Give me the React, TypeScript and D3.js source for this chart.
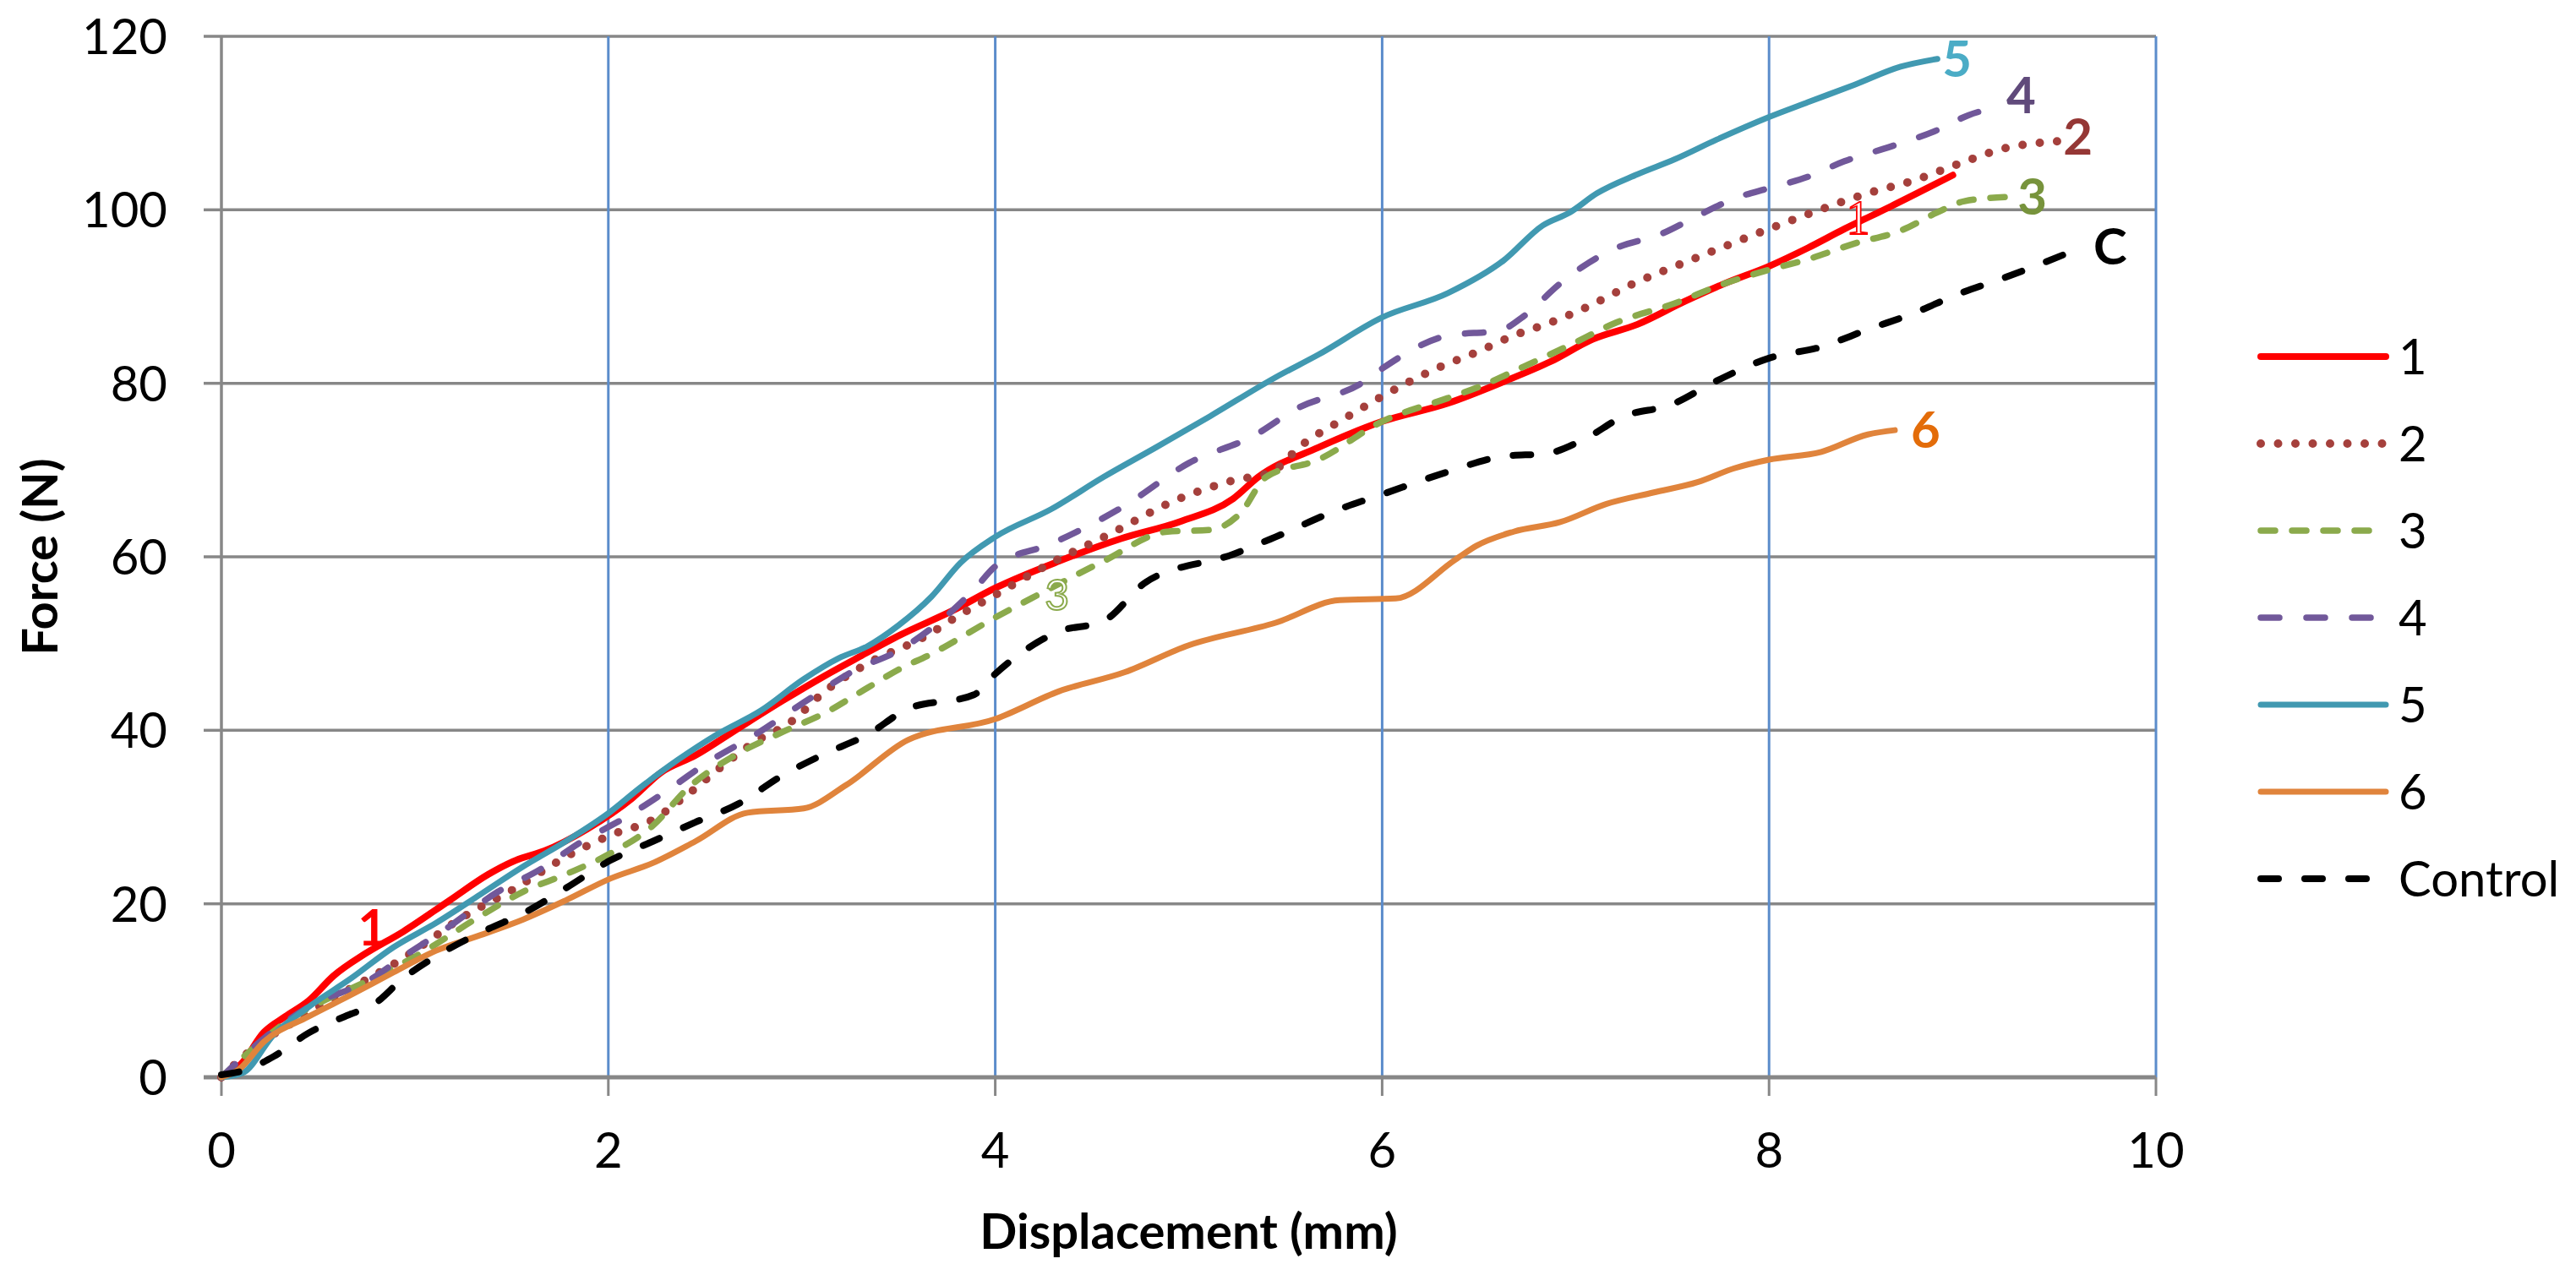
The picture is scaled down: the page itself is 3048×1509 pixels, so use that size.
import React from "react";
import * as d3 from "d3";

// axis ticks
const xTicks = [0, 2, 4, 6, 8, 10];
const yTicks = [0, 20, 40, 60, 80, 100, 120];

// series 1 (red, solid)
const s1X = [0, 0.1, 0.22, 0.33, 0.45, 0.58, 0.74, 0.94, 1.18, 1.38, 1.52, 1.67, 1.89, 2.12, 2.27, 2.45, 2.67, 2.9, 3.12, 3.3, 3.51, 3.78, 4.0, 4.33, 4.65, 4.96, 5.23, 5.36, 5.67, 6.0, 6.34, 6.64, 6.87, 7.09, 7.32, 7.56, 7.77, 8.0, 8.2, 8.39, 8.63, 8.95];
const s1Y = [0, 1.5, 5.2, 7.0, 8.8, 11.7, 14.2, 16.8, 20.4, 23.4, 25.0, 26.1, 28.6, 32.1, 35.1, 37.1, 40.2, 43.4, 46.3, 48.5, 51.0, 53.8, 56.4, 59.5, 62.1, 64.1, 66.7, 69.2, 72.6, 75.6, 77.7, 80.3, 82.5, 85.1, 86.8, 89.4, 91.5, 93.5, 95.6, 97.8, 100.4, 104.0];

// series 2 (dark red, round dots)
const s2X = [0, 0.13, 0.45, 1.0, 1.23, 1.52, 1.78, 2.01, 2.23, 2.41, 2.59, 2.76, 2.94, 3.12, 3.34, 3.62, 3.84, 4.0, 4.29, 4.6, 4.91, 5.23, 5.43, 5.58, 5.81, 6.0, 6.3, 6.49, 6.68, 6.87, 7.06, 7.3, 7.56, 7.75, 8.0, 8.25, 8.51, 8.75, 8.98, 9.22, 9.49];
const s2Y = [0, 2.7, 7.4, 14.6, 18.2, 21.8, 25.4, 27.9, 29.7, 32.6, 35.9, 38.7, 40.9, 44.5, 47.7, 50.6, 53.6, 55.6, 59.3, 62.7, 66.3, 68.8, 69.8, 72.8, 76.0, 78.5, 81.9, 83.6, 85.5, 87.0, 88.8, 91.5, 93.9, 95.6, 97.8, 99.9, 101.9, 103.4, 105.3, 107.1, 107.9];

// series 3 (green, dashes)
const s3X = [0, 0.33, 0.78, 1.0, 1.34, 1.56, 1.78, 2.01, 2.23, 2.41, 2.67, 2.9, 3.12, 3.34, 3.5, 3.67, 4.0, 4.22, 4.56, 4.89, 5.11, 5.27, 5.4, 5.67, 6.0, 6.34, 6.49, 6.73, 6.97, 7.21, 7.51, 7.77, 8.0, 8.2, 8.44, 8.68, 8.87, 9.01, 9.25];
const s3Y = [0, 6.3, 11.4, 13.9, 18.6, 21.4, 23.4, 25.8, 29.0, 33.3, 37.3, 39.8, 42.0, 44.9, 47.0, 48.8, 53.0, 55.6, 59.5, 62.9, 63.1, 65.1, 69.2, 71.2, 75.6, 78.3, 79.5, 81.9, 84.4, 87.0, 89.2, 91.5, 93.1, 94.3, 96.1, 97.6, 99.7, 101.0, 101.5];

// series 4 (purple, long dashes)
const s4X = [0, 0.22, 0.45, 0.78, 0.94, 1.16, 1.43, 1.65, 1.85, 2.1, 2.32, 2.52, 2.76, 3.01, 3.28, 3.5, 3.89, 4.0, 4.29, 4.67, 5.0, 5.34, 5.56, 5.9, 6.0, 6.34, 6.61, 6.73, 6.92, 7.04, 7.21, 7.44, 7.63, 7.82, 8.0, 8.2, 8.39, 8.63, 8.87, 9.03, 9.17];
const s4Y = [0, 4.5, 8.1, 11.4, 13.9, 17.1, 21.4, 24.0, 27.0, 30.1, 33.3, 36.4, 39.5, 43.2, 47.0, 49.2, 56.2, 58.9, 61.5, 65.9, 70.8, 74.0, 77.1, 80.1, 81.7, 85.5, 86.1, 87.7, 91.5, 93.5, 95.6, 97.2, 99.3, 101.3, 102.5, 103.8, 105.6, 107.3, 109.2, 110.9, 111.8];

// series 5 (teal, solid)
const s5X = [0, 0.11, 0.27, 0.45, 0.67, 0.89, 1.11, 1.34, 1.56, 1.78, 2.01, 2.16, 2.36, 2.56, 2.79, 3.01, 3.19, 3.34, 3.5, 3.67, 3.82, 4.0, 4.29, 4.56, 4.83, 5.11, 5.45, 5.67, 6.0, 6.34, 6.63, 6.83, 6.97, 7.11, 7.32, 7.51, 7.73, 8.0, 8.2, 8.44, 8.68, 8.87];
const s5Y = [0, 0.5, 4.9, 8.1, 11.4, 15.0, 17.8, 21.1, 24.3, 27.2, 30.6, 33.3, 36.6, 39.5, 42.3, 45.9, 48.3, 49.7, 52.1, 55.4, 59.3, 62.3, 65.5, 69.2, 72.6, 76.2, 80.7, 83.3, 87.6, 90.4, 94.2, 98.2, 99.7, 101.9, 104.1, 105.8, 108.1, 110.7, 112.4, 114.4, 116.5, 117.4];

// series 6 (orange, solid)
const s6X = [0, 0.09, 0.22, 0.45, 0.67, 0.89, 1.11, 1.34, 1.56, 1.78, 2.01, 2.23, 2.45, 2.72, 3.01, 3.23, 3.55, 4.0, 4.33, 4.67, 5.0, 5.45, 5.78, 6.07, 6.38, 6.49, 6.68, 6.92, 7.16, 7.4, 7.63, 7.82, 8.0, 8.27, 8.51, 8.65];
const s6Y = [0, 0.9, 4.1, 7.0, 9.5, 12.1, 14.6, 16.4, 18.2, 20.4, 22.9, 24.7, 27.2, 30.5, 31.0, 33.7, 38.9, 41.3, 44.5, 46.7, 49.8, 52.4, 55.0, 55.2, 59.7, 61.3, 62.9, 64.0, 66.1, 67.4, 68.6, 70.2, 71.2, 72.1, 74.1, 74.6];

// control (black, dashes)
const cX = [0, 0.12, 0.27, 0.45, 0.67, 0.78, 0.94, 1.16, 1.38, 1.56, 1.78, 2.01, 2.23, 2.45, 2.67, 2.9, 3.12, 3.34, 3.55, 3.89, 4.0, 4.33, 4.56, 4.78, 5.23, 5.45, 5.78, 6.0, 6.34, 6.63, 6.85, 7.04, 7.25, 7.49, 7.73, 8.0, 8.27, 8.51, 8.75, 8.98, 9.22, 9.62];
const cY = [0.3, 0.8, 2.4, 5.1, 7.3, 8.3, 11.4, 14.6, 17.1, 18.9, 21.8, 25.0, 27.2, 29.4, 31.5, 34.8, 37.3, 39.5, 42.5, 44.1, 46.5, 51.4, 52.6, 57.1, 60.3, 62.3, 65.5, 67.2, 69.8, 71.6, 71.9, 73.5, 76.2, 77.5, 80.3, 82.9, 84.2, 86.2, 88.1, 90.3, 92.2, 95.7];

const seriesNames = ["1", "2", "3", "4", "5", "6", "Control"];
const endLabels = ["", "2", "3", "4", "5", "6", "C"];

const W = 3048;
const H = 1509;
const FONT = "Lato, 'Open Sans', sans-serif";

const styles = [
  { color: "#FF0000", width: 8, dash: "", label: "#FF0000", gap: 8, lift: 0 },
  { color: "#A5403C", width: 10, dash: "0 20.5", label: "#953735", gap: 7, lift: 5 },
  { color: "#8BAA4C", width: 7.5, dash: "17 20", label: "#77933C", gap: 8, lift: 0 },
  { color: "#71589A", width: 7.5, dash: "22 32", label: "#604A7B", gap: 13, lift: 14 },
  { color: "#4199B1", width: 7, dash: "", label: "#4BACC6", gap: 6, lift: 0 },
  { color: "#E0843C", width: 7, dash: "", label: "#E36C09", gap: 19, lift: 0 },
  { color: "#000000", width: 8, dash: "21 31", label: "#000000", gap: 13, lift: 0 },
];

export default function App() {
  const x = d3.scaleLinear().domain([0, 10]).range([262, 2551]);
  const y = d3.scaleLinear().domain([0, 120]).range([1275, 43]);

  const line = d3
    .line<[number, number]>()
    .x((d) => x(d[0]))
    .y((d) => y(d[1]))
    .curve(d3.curveMonotoneX);

  const raw = [
    [s1X, s1Y],
    [s2X, s2Y],
    [s3X, s3Y],
    [s4X, s4Y],
    [s5X, s5Y],
    [s6X, s6Y],
    [cX, cY],
  ];
  const series = raw.map(([xs, ys]) => xs.map((v, i) => [v, ys[i]] as [number, number]));

  const legendX0 = 2675;
  const legendX1 = 2823;
  const legendY = (i: number) => 422 + i * 103;

  return (
    <svg
      width={W}
      height={H}
      style={{ position: "absolute", left: 0, top: 0, background: "#fff" }}
      fontFamily={FONT}
    >
      <rect width={W} height={H} fill="#fff" />

      {/* horizontal gridlines + y ticks */}
      {yTicks.map((t) => (
        <g key={"y" + t}>
          {t > 0 && (
            <line x1={x(0)} x2={x(10)} y1={y(t)} y2={y(t)} stroke="#878787" strokeWidth={3.5} />
          )}
          <line x1={241} x2={x(0)} y1={y(t)} y2={y(t)} stroke="#878787" strokeWidth={3.5} />
          <text x={198} y={y(t) + 21} textAnchor="end" fontSize={58} fill="#000">
            {t}
          </text>
        </g>
      ))}

      {/* vertical gridlines */}
      {xTicks
        .filter((t) => t > 0)
        .map((t) => (
          <line key={"gx" + t} x1={x(t)} x2={x(t)} y1={y(120)} y2={y(0)} stroke="#5B8CCB" strokeWidth={3} />
        ))}

      {/* y axis */}
      <line x1={x(0)} x2={x(0)} y1={y(120)} y2={y(0)} stroke="#878787" strokeWidth={3.5} />

      {/* x axis + ticks */}
      {xTicks.map((t) => (
        <g key={"x" + t}>
          <line x1={x(t)} x2={x(t)} y1={y(0)} y2={1297} stroke="#878787" strokeWidth={3} />
          <text x={x(t)} y={1382} textAnchor="middle" fontSize={58} fill="#000">
            {t}
          </text>
        </g>
      ))}
      <line x1={241} x2={x(10)} y1={y(0)} y2={y(0)} stroke="#878787" strokeWidth={5} />

      {/* data lines */}
      {series.map((pts, i) => (
        <path
          key={"s" + i}
          d={line(pts) || ""}
          fill="none"
          stroke={styles[i].color}
          strokeWidth={styles[i].width}
          strokeDasharray={styles[i].dash || undefined}
          strokeLinecap="round"
          strokeLinejoin="round"
        />
      ))}

      {/* end labels */}
      {series.map((pts, i) => {
        if (!endLabels[i]) return null;
        const last = pts[pts.length - 1];
        return (
          <text
            key={"l" + i}
            x={x(last[0]) + styles[i].gap}
            y={y(last[1]) + 21 - styles[i].lift}
            fontSize={60}
            fontWeight="bold"
            fill={styles[i].label}
          >
            {endLabels[i]}
          </text>
        );
      })}

      {/* label for series 1 near start */}
      <text x={x(0.78)} y={y(17.2) + 21} textAnchor="middle" fontSize={60} fontWeight="bold" fill="#FF0000">
        1
      </text>

      {/* outlined labels on the lines */}
      <text
        x={x(8.46)}
        y={y(99.1) + 19}
        textAnchor="middle"
        fontSize={56}
        fontFamily="'Liberation Serif', serif"
        fill="#fff"
        stroke="#FF0000"
        strokeWidth={1.8}
      >
        1
      </text>
      <text
        x={x(4.32)}
        y={y(55.6) + 18}
        textAnchor="middle"
        fontSize={50}
        fill="#fff"
        stroke="#8BAA4C"
        strokeWidth={2}
      >
        3
      </text>

      {/* axis titles */}
      <text x={x(5)} y={1478} textAnchor="middle" fontSize={58} fontWeight="bold" fill="#000">
        Displacement (mm)
      </text>
      <text
        transform={`translate(68, ${y(60)}) rotate(-90)`}
        textAnchor="middle"
        fontSize={58}
        fontWeight="bold"
        fill="#000"
      >
        Force (N)
      </text>

      {/* legend */}
      {seriesNames.map((name, i) => (
        <g key={"lg" + i}>
          <line
            x1={legendX0}
            x2={legendX1}
            y1={legendY(i)}
            y2={legendY(i)}
            stroke={styles[i].color}
            strokeWidth={styles[i].width}
            strokeDasharray={styles[i].dash || undefined}
            strokeLinecap="round"
          />
          <text x={2838} y={legendY(i) + 21} fontSize={58} fill="#000">
            {name}
          </text>
        </g>
      ))}
    </svg>
  );
}
